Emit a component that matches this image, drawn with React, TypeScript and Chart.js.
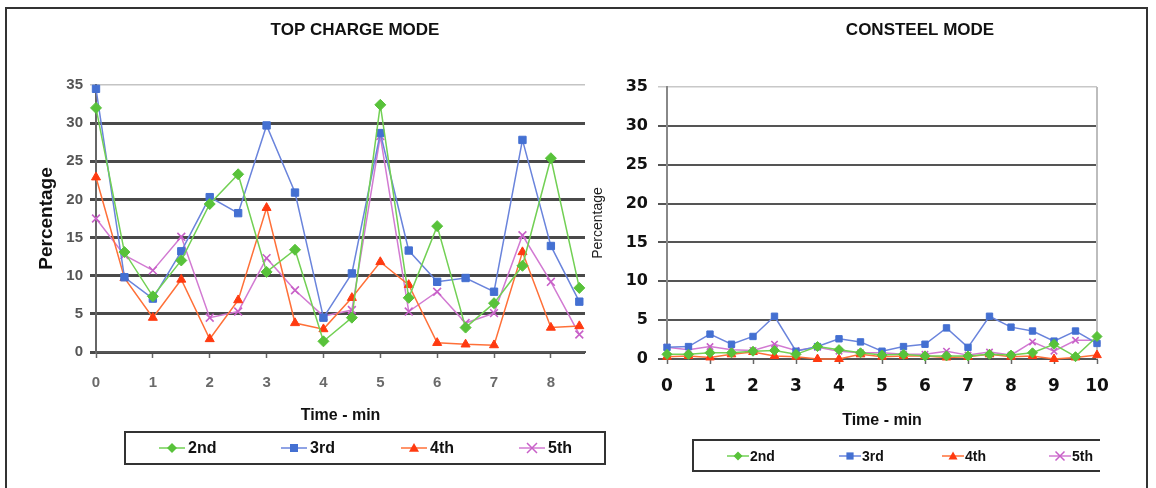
import React, { useEffect, useRef } from "react";
import { Chart, registerables } from "chart.js";

Chart.register(...registerables);

const FONT = '"Liberation Sans", Arial, sans-serif';
const WIDE = '"DejaVu Sans", Verdana, sans-serif';

// ---------- data ----------
const seriesNames = ["2nd", "3rd", "4th", "5th"];
const markerColors = ["#58c23a", "#4470d2", "#ff3a10", "#c860c8"];
const lineColors = ["#72d054", "#6a84dc", "#ff7038", "#d27ad2"];
const pointStyles = ["rectRot", "rect", "triangle", "crossRot"];

const topChargeTitle = "TOP CHARGE MODE";
const consteelTitle = "CONSTEEL MODE";
const xAxisTitle = "Time - min";
const yAxisTitle = "Percentage";

const topChargeTimes = [0, 0.5, 1, 1.5, 2, 2.5, 3, 3.5, 4, 4.5, 5, 5.5, 6, 6.5, 7, 7.5, 8, 8.5];
const topCharge2nd = [32.0, 13.1, 7.3, 12.0, 19.4, 23.3, 10.5, 13.4, 1.4, 4.5, 32.4, 7.1, 16.5, 3.2, 6.4, 11.3, 25.4, 8.4];
const topCharge3rd = [34.5, 9.8, 7.0, 13.2, 20.3, 18.2, 29.7, 20.9, 4.5, 10.3, 28.7, 13.3, 9.2, 9.7, 7.9, 27.8, 13.9, 6.6];
const topCharge4th = [22.9, 9.7, 4.5, 9.5, 1.7, 6.8, 18.9, 3.8, 3.0, 7.1, 11.8, 8.8, 1.2, 1.0, 0.9, 13.1, 3.2, 3.4];
const topCharge5th = [17.5, 12.7, 10.7, 15.1, 4.5, 5.3, 12.3, 8.1, 4.7, 5.5, 28.3, 5.3, 7.9, 3.8, 5.1, 15.3, 9.2, 2.3];

const consteelTimes = [0, 0.5, 1, 1.5, 2, 2.5, 3, 3.5, 4, 4.5, 5, 5.5, 6, 6.5, 7, 7.5, 8, 8.5, 9, 9.5, 10];
const consteel2nd = [0.6, 0.6, 0.8, 0.8, 1.0, 1.1, 0.6, 1.6, 1.2, 0.8, 0.5, 0.6, 0.4, 0.4, 0.4, 0.6, 0.5, 0.8, 1.9, 0.3, 2.9];
const consteel3rd = [1.5, 1.6, 3.2, 1.9, 2.9, 5.5, 1.0, 1.6, 2.6, 2.2, 1.0, 1.6, 1.9, 4.0, 1.5, 5.5, 4.1, 3.6, 2.3, 3.6, 2.0];
const consteel4th = [0.3, 0.4, 0.2, 0.6, 0.9, 0.4, 0.3, 0.0, 0.0, 0.6, 0.3, 0.4, 0.4, 0.2, 0.3, 0.6, 0.3, 0.4, 0.0, 0.2, 0.5];
const consteel5th = [1.5, 1.2, 1.6, 1.2, 1.1, 1.9, 1.1, 1.5, 1.0, 0.8, 0.8, 0.6, 0.6, 1.0, 0.5, 0.9, 0.5, 2.2, 1.0, 2.4, 2.4];

const yTicksMin = 0;
const yTicksMax = 35;
const yTickStep = 5;

// ---------- helpers ----------
function drawMarker(ctx: any, style: string, x: number, y: number, r: number, fill: string) {
  ctx.save();
  ctx.fillStyle = fill;
  ctx.strokeStyle = fill;
  ctx.lineWidth = 1.5;
  ctx.beginPath();
  if (style === "rectRot") {
    ctx.moveTo(x, y - r);
    ctx.lineTo(x + r, y);
    ctx.lineTo(x, y + r);
    ctx.lineTo(x - r, y);
    ctx.closePath();
    ctx.fill();
  } else if (style === "rect") {
    ctx.rect(x - r * 0.8, y - r * 0.8, r * 1.6, r * 1.6);
    ctx.fill();
  } else if (style === "triangle") {
    ctx.moveTo(x, y - r);
    ctx.lineTo(x + r, y + r * 0.75);
    ctx.lineTo(x - r, y + r * 0.75);
    ctx.closePath();
    ctx.fill();
  } else {
    ctx.moveTo(x - r, y - r);
    ctx.lineTo(x + r, y + r);
    ctx.moveTo(x + r, y - r);
    ctx.lineTo(x - r, y + r);
    ctx.stroke();
  }
  ctx.restore();
}

function decorPlugin(o: any) {
  return {
    id: "decor",
    beforeDatasetsDraw(chart: any) {
      if (!o.rightBorder) return;
      const ctx = chart.ctx;
      const a = chart.chartArea;
      ctx.save();
      ctx.strokeStyle = "#bdbdbd";
      ctx.lineWidth = 2;
      ctx.beginPath();
      ctx.moveTo(a.right, a.top);
      ctx.lineTo(a.right, a.bottom);
      ctx.stroke();
      ctx.restore();
    },
    afterDraw(chart: any) {
      const ctx = chart.ctx;
      ctx.save();
      // title
      ctx.font = "bold 17px " + FONT;
      ctx.fillStyle = "#111";
      ctx.textAlign = "center";
      ctx.textBaseline = "middle";
      ctx.fillText(o.title, o.titleX, o.titleY);
      // legend frame
      const b = o.box;
      ctx.strokeStyle = "#333";
      ctx.lineWidth = 2;
      ctx.beginPath();
      if (b.open) {
        ctx.moveTo(b.x2, b.y1);
        ctx.lineTo(b.x1, b.y1);
        ctx.lineTo(b.x1, b.y2);
        ctx.lineTo(b.x2, b.y2);
      } else {
        ctx.rect(b.x1, b.y1, b.x2 - b.x1, b.y2 - b.y1);
      }
      ctx.stroke();
      // legend items
      ctx.font = o.legendFont;
      ctx.textAlign = "left";
      for (let i = 0; i < seriesNames.length; i++) {
        const mx = o.markerX[i];
        const my = o.legendY;
        ctx.strokeStyle = lineColors[i];
        ctx.lineWidth = 1.5;
        ctx.beginPath();
        ctx.moveTo(mx - o.half, my);
        ctx.lineTo(mx + o.half, my);
        ctx.stroke();
        drawMarker(ctx, pointStyles[i], mx, my, o.markerR, markerColors[i]);
        ctx.fillStyle = "#111";
        ctx.fillText(seriesNames[i], mx + o.textGap, my + 1);
      }
      ctx.restore();
    },
  };
}

function buildDatasets(times: number[], series: number[][], radii: number[]) {
  return series.map((vals, i) => ({
    label: seriesNames[i],
    data: vals.map((v, j) => ({ x: times[j], y: v })),
    borderColor: lineColors[i],
    backgroundColor: markerColors[i],
    borderWidth: 1.5,
    pointStyle: pointStyles[i],
    pointRadius: radii[i],
    pointBackgroundColor: markerColors[i],
    pointBorderColor: markerColors[i],
    pointBorderWidth: pointStyles[i] === "crossRot" ? 1.6 : 1,
    tension: 0,
    clip: false,
  }));
}

export default function App() {
  const leftRef = useRef<HTMLCanvasElement | null>(null);
  const rightRef = useRef<HTMLCanvasElement | null>(null);

  useEffect(() => {
    const left = new Chart(leftRef.current as any, {
      type: "line",
      data: {
        datasets: buildDatasets(
          topChargeTimes,
          [topCharge2nd, topCharge3rd, topCharge4th, topCharge5th],
          [5.5, 5.2, 5.2, 5.5]
        ) as any,
      },
      options: {
        responsive: false,
        animation: false,
        layout: { padding: { top: 85, left: 0, right: 571, bottom: 56 } },
        plugins: { legend: { display: false }, title: { display: false }, tooltip: { enabled: false } },
        scales: {
          x: {
            type: "linear",
            min: 0,
            max: 8.6,
            ticks: {
              stepSize: 1,
              includeBounds: false,
              color: "#6a6a6a",
              font: { family: FONT, size: 15, weight: "bold" },
              padding: 16,
              maxRotation: 0,
            },
            grid: { drawOnChartArea: false, drawTicks: true, tickLength: 6, tickColor: "#666", tickWidth: 1.5 },
            border: { display: true, color: "#555", width: 2 },
            title: {
              display: true,
              text: xAxisTitle,
              color: "#111",
              font: { family: FONT, size: 16, weight: "bold" },
              padding: { top: 0, bottom: 7 },
            },
            afterFit: (s: any) => {
              s.height = 80;
            },
          },
          y: {
            min: yTicksMin,
            max: yTicksMax,
            ticks: {
              stepSize: yTickStep,
              color: "#555",
              font: { family: FONT, size: 15, weight: "bold" },
              padding: 7,
            },
            grid: {
              color: (c: any) => (c.tick && c.tick.value === 35 ? "#c4c4c4" : "#4a4a4a"),
              lineWidth: (c: any) => (c.tick && c.tick.value === 35 ? 1.5 : 3),
              drawTicks: true,
              tickLength: 6,
            },
            border: { display: true, color: "#666", width: 2 },
            title: {
              display: true,
              text: yAxisTitle,
              color: "#111",
              font: { family: FONT, size: 19, weight: "bold" },
              padding: { top: 35, bottom: 0 },
            },
            afterFit: (s: any) => {
              s.width = 96;
            },
          },
        },
      } as any,
      plugins: [
        decorPlugin({
          title: topChargeTitle,
          titleX: 355,
          titleY: 30,
          box: { x1: 125, y1: 432, x2: 605, y2: 464, open: false },
          legendY: 448,
          markerX: [172, 294, 414, 532],
          markerR: 5,
          half: 13,
          textGap: 16,
          legendFont: "bold 16px " + FONT,
        }),
      ],
    });

    const right = new Chart(rightRef.current as any, {
      type: "line",
      data: {
        datasets: buildDatasets(
          consteelTimes,
          [consteel2nd, consteel3rd, consteel4th, consteel5th],
          [5, 4.5, 5, 4.5]
        ) as any,
      },
      options: {
        responsive: false,
        animation: false,
        layout: { padding: { top: 87, left: 585, right: 59, bottom: 49 } },
        plugins: { legend: { display: false }, title: { display: false }, tooltip: { enabled: false } },
        scales: {
          x: {
            type: "linear",
            min: 0,
            max: 10,
            ticks: {
              stepSize: 1,
              color: "#111",
              font: { family: WIDE, size: 17, weight: "bold" },
              padding: 12,
              maxRotation: 0,
            },
            grid: { drawOnChartArea: false, drawTicks: true, tickLength: 5, tickColor: "#666", tickWidth: 1.5 },
            border: { display: true, color: "#555", width: 2 },
            title: {
              display: true,
              text: xAxisTitle,
              color: "#111",
              font: { family: FONT, size: 16, weight: "bold" },
              padding: { top: 0, bottom: 9 },
            },
            afterFit: (s: any) => {
              s.height = 80;
            },
          },
          y: {
            min: yTicksMin,
            max: yTicksMax,
            ticks: {
              stepSize: yTickStep,
              color: "#111",
              font: { family: WIDE, size: 16, weight: "bold" },
              padding: 10,
            },
            grid: {
              color: (c: any) => (c.tick && c.tick.value === 35 ? "#c8c8c8" : "#555"),
              lineWidth: (c: any) => (c.tick && c.tick.value === 35 ? 1.5 : 2),
              drawTicks: true,
              tickLength: 9,
            },
            border: { display: true, color: "#888", width: 2 },
            title: {
              display: true,
              text: yAxisTitle,
              color: "#222",
              font: { family: FONT, size: 14, weight: "normal" },
              padding: { top: 5, bottom: 0 },
            },
            afterFit: (s: any) => {
              s.width = 82;
            },
          },
        },
      } as any,
      plugins: [
        decorPlugin({
          title: consteelTitle,
          titleX: 920,
          titleY: 30,
          box: { x1: 693, y1: 440, x2: 1100, y2: 471, open: true },
          legendY: 456,
          markerX: [738, 850, 953, 1060],
          markerR: 4.5,
          half: 11,
          textGap: 12,
          legendFont: "bold 14px " + FONT,
          rightBorder: true,
        }),
      ],
    });

    return () => {
      left.destroy();
      right.destroy();
    };
  }, []);

  return (
    <div
      style={{
        position: "absolute",
        left: 0,
        top: 0,
        width: 1156,
        height: 488,
        overflow: "hidden",
        background: "#fff",
      }}
    >
      <div
        style={{
          position: "absolute",
          left: 5,
          top: 7,
          width: 1143,
          height: 520,
          border: "2px solid #333",
          boxSizing: "border-box",
        }}
      />
      <canvas
        ref={leftRef}
        width={1156}
        height={488}
        style={{ position: "absolute", left: 0, top: 0, width: 1156, height: 488 }}
      />
      <canvas
        ref={rightRef}
        width={1156}
        height={488}
        style={{ position: "absolute", left: 0, top: 0, width: 1156, height: 488 }}
      />
    </div>
  );
}
